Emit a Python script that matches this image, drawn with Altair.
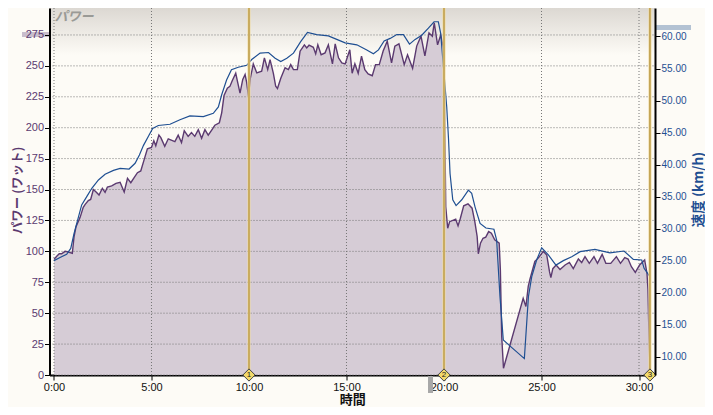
import altair as alt
import pandas as pd

power_min = [0.0,0.14,0.27,0.39,0.57,0.74,0.94,1.03,1.13,1.34,1.5,1.6,1.76,1.88,2.02,2.16,2.31,2.48,2.62,2.74,2.96,3.18,3.39,3.6,3.77,3.94,4.11,4.28,4.45,4.62,4.79,5.0,5.12,5.22,5.38,5.48,5.68,5.86,6.2,6.37,6.54,6.68,6.88,7.05,7.22,7.4,7.57,7.74,7.91,8.13,8.25,8.48,8.6,8.72,8.89,9.02,9.14,9.32,9.42,9.54,9.68,9.8,9.88,9.97,10.07,10.22,10.4,10.65,10.79,10.96,11.08,11.25,11.37,11.46,11.63,11.85,12.02,12.14,12.28,12.48,12.62,12.84,12.96,13.08,13.3,13.42,13.53,13.7,13.9,14.07,14.28,14.42,14.59,14.76,14.93,15.17,15.29,15.43,15.6,15.77,15.94,16.11,16.32,16.49,16.68,16.88,17.09,17.31,17.48,17.69,17.96,18.13,18.39,18.6,18.82,19.02,19.23,19.4,19.5,19.67,19.83,19.97,20.0,20.09,20.19,20.29,20.6,20.72,20.84,21.01,21.23,21.44,21.58,21.7,21.76,21.87,22.0,22.14,22.29,22.43,22.6,22.83,22.89,22.96,23.05,24.06,24.2,24.32,24.4,24.66,24.83,25.09,25.27,25.41,25.48,25.58,25.75,25.95,26.21,26.43,26.63,26.89,27.06,27.23,27.45,27.69,27.87,28.11,28.3,28.55,28.84,29.05,29.27,29.44,29.61,29.81,30.03,30.29,30.41,30.46,30.5,30.56]
power_w = [93.5,96,98,98,100,99.5,98.4,112,120,127.5,135.6,138,141,142,150,148,145.5,151,147.7,152,153,155,155.8,148,159,155.5,159.6,163.6,165,174,183,184,189.5,185.4,194,192,185,191,188.7,194,188,197.6,193,196,193,198.4,191.4,198.4,194,199,202,204,212,226,232,233.4,238,244,236.7,228,239,243,236.7,225.5,240,251.6,244.3,245.7,256.5,247,255,244,233.5,231.7,240,248.4,247,251,247,247,261.9,267,264.5,266.7,265,259.7,267,259,260.5,267,251.6,267.8,256.5,252.4,251.6,263,244,251.6,244,257.8,247,243.5,242,251,251,262,270,252.4,266,267.8,251,259,248,266,274,258,276.7,274,284.8,267,275,264.5,251,136,118.7,124,126,120.6,126.8,136.8,138.4,134.9,124,112,98,106.6,110.6,111.5,116,114.7,109.3,106.6,85,31,5.5,62,55.4,71.6,77,91.8,94.5,100,97,83.6,78.7,86,89,85.4,89,91,86,93.8,91,95.7,90.3,95.7,90.3,97.6,90.3,90.3,95.7,90.3,94.9,93.8,87.6,83,89,93,82,68.7,40,8]

speed_min = [0.0,0.31,0.65,0.86,1.03,1.25,1.42,1.68,1.94,2.28,2.62,3.05,3.39,3.85,4.16,4.38,4.59,4.85,5.06,5.35,5.95,6.46,6.97,7.66,8.17,8.43,8.6,8.85,9.1,9.45,9.88,10.14,10.57,11.0,11.34,11.63,11.94,12.28,12.65,13.0,13.47,14.07,14.5,14.93,15.53,16.04,16.38,16.64,16.93,17.24,17.58,17.92,18.23,18.52,18.86,19.2,19.49,19.71,19.83,19.97,20.14,20.23,20.31,20.45,20.62,20.91,21.25,21.42,21.59,21.85,22.15,22.56,22.7,22.87,23.04,24.12,24.33,24.5,24.75,25.01,25.35,25.74,26.12,26.55,26.98,27.74,28.51,29.23,29.71,30.14,30.26,30.56]
speed_kmh = [25,25.5,26,26.9,29.25,31.75,33.7,35,36.3,37.6,38.5,39.1,39.4,39.3,40.2,41.5,43,44.45,45.65,46.1,46.3,47,47.6,47.5,48,49,50.9,53.2,54.8,55.2,55.5,56.4,57.4,57.5,56.6,56.1,56.6,57.4,59.2,60.65,60.3,60.1,59.55,59,58.7,57.9,57.3,57.9,59.3,59.7,60.3,60.3,58.8,59.55,60.2,61.3,62.3,62.3,60.5,55.3,49,44.1,38.6,34.5,33.6,34.5,36,35.5,33.4,30.8,30.1,29.9,28.2,19.4,12.6,9.7,19.4,22.5,25.1,27,25.9,24.3,25,25.6,26.4,26.75,26.2,26.5,25.2,25.1,23.8,22.5]

lap_min = [10.0, 20.0, 30.56]
lap_label = ["1", "2", "3"]
power_ticks = list(range(0, 276, 25))
speed_ticks = list(range(10, 61, 5))
time_ticks = [0, 5, 10, 15, 20, 25, 30]

W, H = 605.5, 367
PURPLE, BLUE = "#5b3a70", "#1f4f92"
TICKFONT = "Liberation Sans"
JP = "Noto Sans CJK JP"

power = pd.DataFrame({"t": power_min, "p": power_w})
speed = pd.DataFrame({"t": speed_min, "s": speed_kmh})
laps = pd.DataFrame({"t": lap_min, "n": lap_label})
hgrid = pd.DataFrame({"p": power_ticks})
vgrid = pd.DataFrame({"t": time_ticks})

xs = alt.Scale(domain=[-0.23, 30.82], nice=False, zero=False)
ys_p = alt.Scale(domain=[0, 296.8], nice=False, zero=False)
ys_s = alt.Scale(domain=[7.14, 64.45], nice=False, zero=False)

x_axis = alt.Axis(values=time_ticks, labelExpr="floor(datum.value) + ':00'", title="時間",
                  titleFont=JP, titleFontSize=13, titleFontWeight="bold", titleColor="#111",
                  titleX=W / 2, titleY=24.5, titleBaseline="middle", labelFont=TICKFONT, labelFontSize=11,
                  labelColor="#111", labelPadding=1, tickSize=5, tickColor="#000", domainColor="#000",
                  domainWidth=2, grid=False, labelFlush=False, labelOverlap=False)
x_enc = alt.X("t:Q", scale=xs, axis=x_axis)

y_left = alt.Axis(values=power_ticks, title="パワー (ワット)", titleFont=JP, titleFontSize=12.5,
                  titleFontWeight="bold", titleColor=PURPLE, titleAngle=-90, titleX=-25, titleY=182,
                  labelFont=TICKFONT, labelFontSize=11, labelColor=PURPLE, labelPadding=1, tickSize=5,
                  tickColor="#000", domainColor="#000", domainWidth=2, grid=False, labelOverlap=False,
                  zindex=1)
y_right = alt.Axis(values=speed_ticks, orient="right", format=".2f", title="速度 (km/h)", titleFont=JP,
                   titleFontSize=13.5, titleFontWeight="bold", titleColor=BLUE, titleAngle=-90,
                   titleX=50, titleY=181, labelFont=TICKFONT, labelFontSize=10, labelColor=BLUE,
                   labelPadding=1, tickSize=5, tickColor="#000", domainColor="#000", domainWidth=2,
                   grid=False, labelOverlap=False, zindex=1)

one = pd.DataFrame({"a": [0]})
header = alt.Chart(one).mark_rect(
    color=alt.Gradient(gradient="linear", x1=0, x2=0, y1=0, y2=1,
                       stops=[alt.GradientStop(color="#dcd8d2", offset=0),
                              alt.GradientStop(color="#fdfbf6", offset=1)])
).encode(x=alt.value(0), x2=alt.value(W), y=alt.value(0), y2=alt.value(47))

band_p = alt.Chart(one).mark_rect(color="#c9bdcc").encode(
    x=alt.value(-27.5), x2=alt.value(-0.5), y=alt.value(24), y2=alt.value(29))
band_s = alt.Chart(one).mark_rect(color="#b3c2d3").encode(
    x=alt.value(W + 1), x2=alt.value(W + 36), y=alt.value(17), y2=alt.value(22))
band_t = alt.Chart(one).mark_rect(color="#a8a8a8").encode(
    x=alt.value(378.5), x2=alt.value(383.5), y=alt.value(H + 1), y2=alt.value(H + 18))

area = alt.Chart(power).mark_area(color="#d6ccd6", opacity=1, interpolate="linear").encode(
    x=x_enc, y=alt.Y("p:Q", scale=ys_p, axis=y_left))
h_rules = alt.Chart(hgrid).mark_rule(color="#777", strokeWidth=1, strokeDash=[1, 2]).encode(
    y=alt.Y("p:Q", scale=ys_p, axis=y_left), x=alt.value(0), x2=alt.value(W))
v_rules = alt.Chart(vgrid).mark_rule(color="#777", strokeWidth=1, strokeDash=[1, 2]).encode(
    x=x_enc, y=alt.value(0), y2=alt.value(H))
p_line = alt.Chart(power).mark_line(color=PURPLE, strokeWidth=1.4).encode(
    x=x_enc, y=alt.Y("p:Q", scale=ys_p, axis=y_left))
s_line = alt.Chart(speed).mark_line(color=BLUE, strokeWidth=1.2).encode(
    x=x_enc, y=alt.Y("s:Q", scale=ys_s, axis=y_right))

lap_wide = alt.Chart(laps).mark_rule(color="#efdba0", strokeWidth=3).encode(
    x=x_enc, y=alt.value(0), y2=alt.value(H))
lap_core = alt.Chart(laps).mark_rule(color="#b08c34", strokeWidth=1.2).encode(
    x=x_enc, y=alt.value(0), y2=alt.value(H))
diamonds = alt.Chart(laps).mark_point(shape="diamond", filled=True, size=150, fill="#f3d96a",
                                      stroke="#444", strokeWidth=1, opacity=1).encode(
    x=x_enc, y=alt.value(H))
lap_text = alt.Chart(laps).mark_text(font=TICKFONT, fontSize=8, color="#222", baseline="middle").encode(
    x=x_enc, y=alt.value(H), text="n:N")
label = alt.Chart(one).mark_text(text="パワー", font=JP, fontSize=13, fontWeight="bold", fontStyle="italic",
                                 color="#9a9a96", align="left", baseline="middle").encode(
    x=alt.value(5), y=alt.value(9))

left = alt.layer(header, band_p, band_t, area, v_rules, h_rules, p_line, label)
right = alt.layer(s_line, band_s, lap_wide, lap_core, diamonds, lap_text)

chart = alt.layer(left, right).resolve_scale(y="independent").properties(
    width=W, height=H, background="#fdfbf6",
    padding={"left": 41.5, "top": 0, "right": 50, "bottom": 32},
    autosize=alt.AutoSizeParams(type="none"),
).configure_view(stroke=None)

chart.save("out.html", embed_options={"renderer": "svg", "actions": False})
